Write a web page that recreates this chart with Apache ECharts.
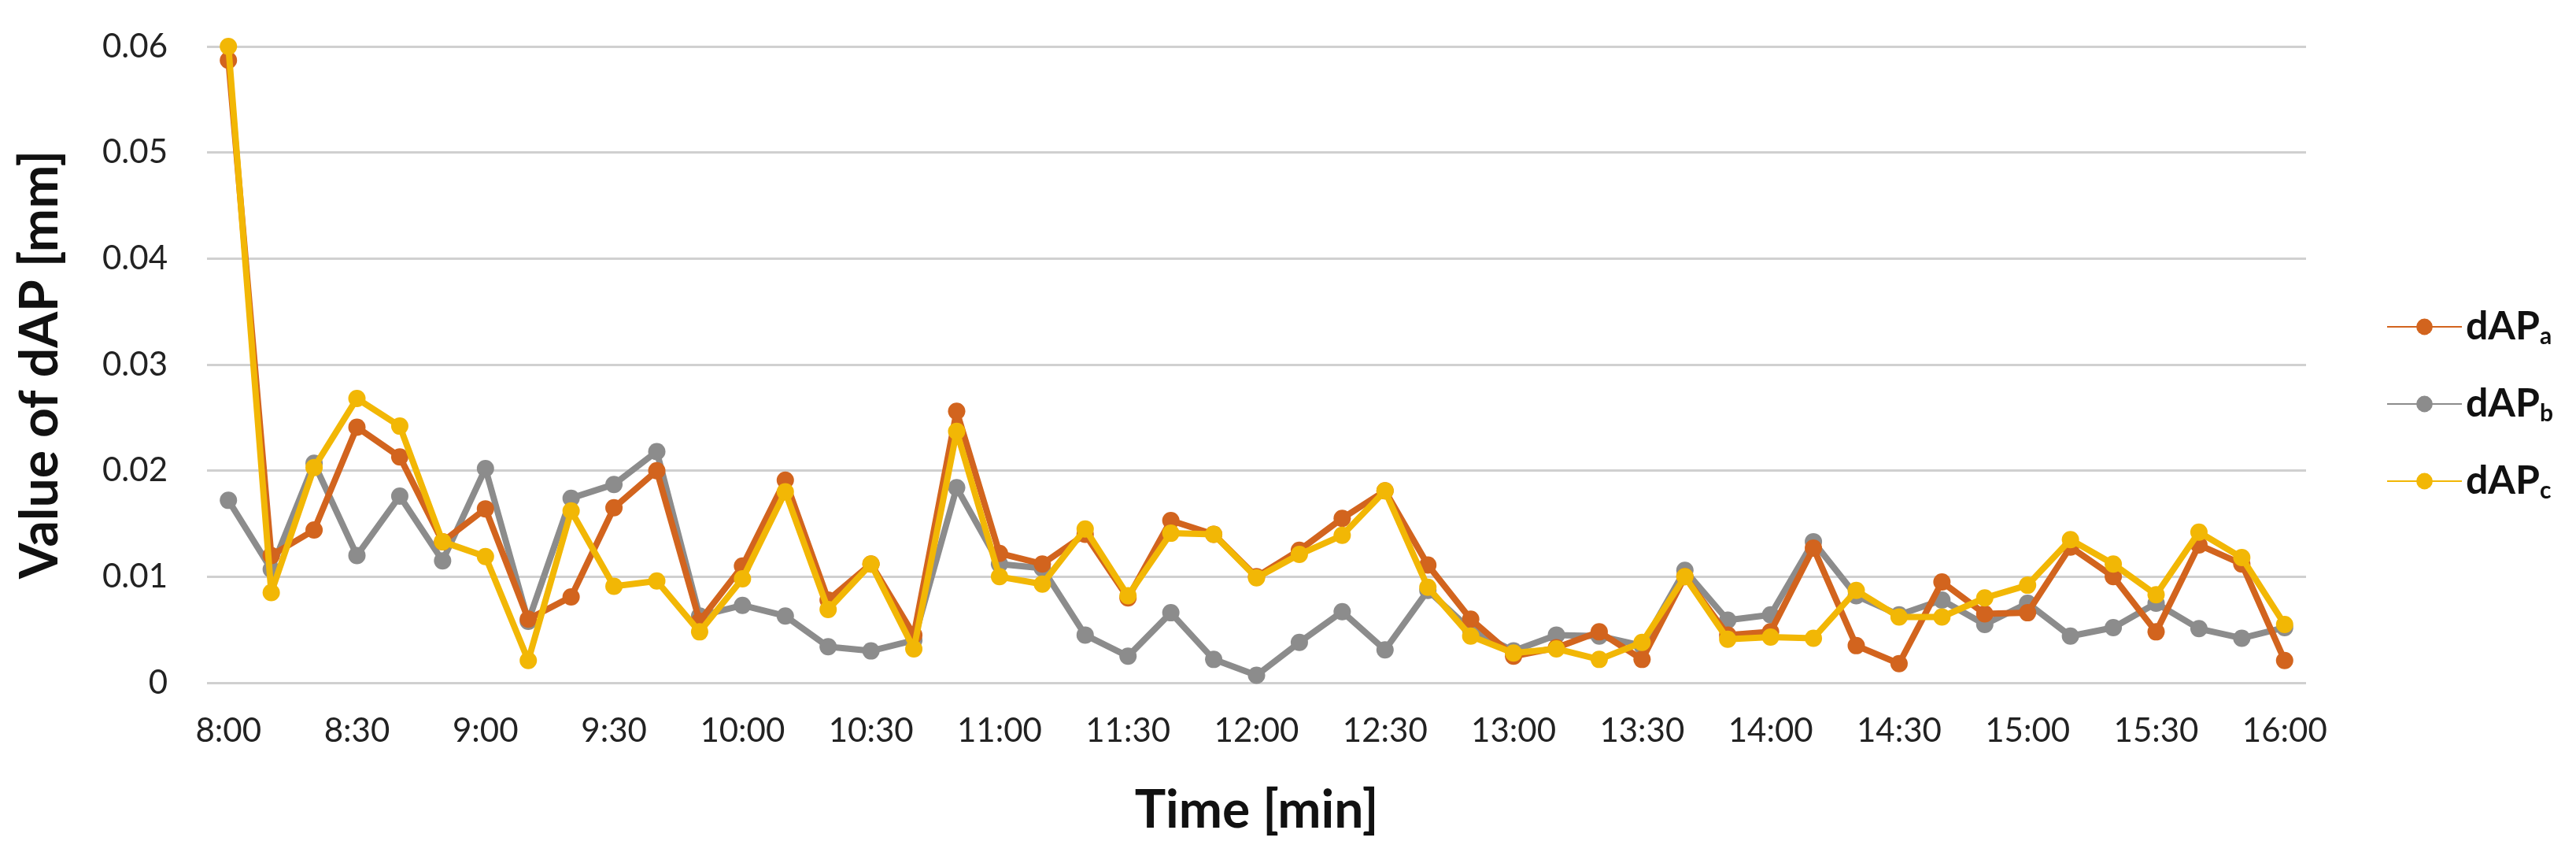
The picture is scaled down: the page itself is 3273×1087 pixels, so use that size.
<!DOCTYPE html>
<html><head><meta charset="utf-8">
<script src="https://cdn.jsdelivr.net/npm/echarts@6/dist/echarts.min.js"></script>
<style>html,body{margin:0;padding:0;background:#fff}#c{width:3273px;height:1087px}</style>
</head><body><div id="c"></div>
<script>
const categories = ["8:00","8:10","8:20","8:30","8:40","8:50","9:00","9:10","9:20","9:30","9:40","9:50","10:00","10:10","10:20","10:30","10:40","10:50","11:00","11:10","11:20","11:30","11:40","11:50","12:00","12:10","12:20","12:30","12:40","12:50","13:00","13:10","13:20","13:30","13:40","13:50","14:00","14:10","14:20","14:30","14:40","14:50","15:00","15:10","15:20","15:30","15:40","15:50","16:00"];
const dAPa = [0.0587,0.0120,0.0144,0.0241,0.0213,0.0133,0.0164,0.0060,0.0081,0.0165,0.0200,0.0058,0.0110,0.0191,0.0078,0.0112,0.0045,0.0256,0.0122,0.0112,0.0140,0.0080,0.0153,0.0140,0.0100,0.0125,0.0155,0.0181,0.0111,0.0060,0.0025,0.0033,0.0048,0.0022,0.0100,0.0045,0.0048,0.0127,0.0035,0.0018,0.0095,0.0065,0.0066,0.0128,0.0100,0.0048,0.0130,0.0112,0.0021];
const dAPb = [0.0172,0.0107,0.0207,0.0120,0.0176,0.0115,0.0202,0.0058,0.0174,0.0187,0.0218,0.0063,0.0073,0.0063,0.0034,0.0030,0.0040,0.0184,0.0112,0.0108,0.0045,0.0025,0.0066,0.0022,0.0007,0.0038,0.0067,0.0031,0.0087,0.0050,0.0030,0.0045,0.0044,0.0035,0.0106,0.0059,0.0064,0.0133,0.0082,0.0064,0.0078,0.0055,0.0075,0.0044,0.0052,0.0075,0.0051,0.0042,0.0052];
const dAPc = [0.0600,0.0085,0.0203,0.0268,0.0242,0.0133,0.0119,0.0021,0.0162,0.0091,0.0096,0.0048,0.0098,0.0180,0.0069,0.0112,0.0032,0.0237,0.0100,0.0093,0.0145,0.0082,0.0141,0.0140,0.0099,0.0121,0.0139,0.0181,0.0090,0.0044,0.0028,0.0032,0.0022,0.0038,0.0100,0.0041,0.0043,0.0042,0.0087,0.0062,0.0062,0.0080,0.0092,0.0135,0.0112,0.0083,0.0142,0.0118,0.0055];
const seriesNames = ["dAPa","dAPb","dAPc"];
const colors = ["#D2641E","#8C8C8C","#F2B705"];
const font = "Lato, 'Open Sans', sans-serif";
const chart = echarts.init(document.getElementById('c'));
const mk = (name, data, i) => ({
  name, type:'line', data, symbol:'circle', symbolSize:22,
  lineStyle:{width:8,color:colors[i]}, itemStyle:{color:colors[i]}, z: i===1?2:(i===0?3:4)
});
chart.setOption({
  animation:false,
  grid:{left:263,right:343,top:59,bottom:220},
  legend:{
    orient:'vertical', left:3027, top:385, itemGap:46, itemWidth:95, itemHeight:26,
    data: seriesNames,
    formatter: n => '{m|dAP}{s|' + n.slice(3) + '}',
    textStyle:{rich:{
      m:{fontFamily:font,fontWeight:'bold',fontSize:50,color:'#111'},
      s:{fontFamily:font,fontWeight:'bold',fontSize:30,color:'#111',verticalAlign:'bottom',padding:[24,0,0,0]}
    }}
  },
  xAxis:{
    type:'category', data:categories, boundaryGap:true,
    name:'Time [min]', nameLocation:'middle', nameGap:130,
    nameTextStyle:{fontFamily:font,fontWeight:'bold',fontSize:66,color:'#111'},
    axisLine:{show:false}, axisTick:{show:false},
    axisLabel:{interval:2,fontFamily:font,fontSize:42,color:'#222',margin:40}
  },
  yAxis:{
    type:'value', min:0, max:0.06, interval:0.01,
    name:'Value of dAP [mm]', nameLocation:'middle', nameGap:178,
    nameTextStyle:{fontFamily:font,fontWeight:'bold',fontSize:66,color:'#111'},
    axisLabel:{fontFamily:font,fontSize:42,color:'#222',margin:50,formatter:v=>v===0?'0':v.toFixed(2)},
    splitLine:{lineStyle:{color:'#D0D0D0',width:3}}
  },
  series:[mk(seriesNames[0],dAPa,0),mk(seriesNames[1],dAPb,1),mk(seriesNames[2],dAPc,2)]
});
</script></body></html>
